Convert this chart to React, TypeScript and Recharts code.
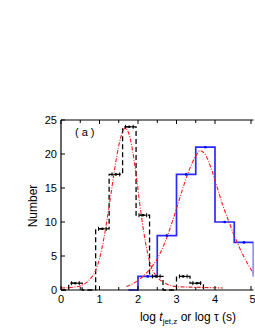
import { ComposedChart, Line, Scatter, ErrorBar, XAxis, YAxis } from 'recharts';

// jet-break time histogram (black dashed), bin edges + counts
const jetEdges = [0, 0.2, 0.55, 0.9, 1.25, 1.6, 1.95, 2.3, 2.65, 3.0, 3.35, 3.7];
const jetCounts = [0, 1, 0, 9, 17, 24, 11, 2, 0, 2, 1, 0];
const jetCenters = [0.375, 1.075, 1.425, 1.775, 2.125, 2.475, 3.175, 3.525];
const jetCenterCounts = [1, 9, 17, 24, 11, 2, 2, 1];

// tau histogram (blue)
const tauEdges = [1.75, 2.0, 2.5, 3.0, 3.5, 4.0, 4.5, 5.0];
const tauCounts = [0, 2, 8, 17, 21, 10, 7, 2];
const tauCenters = [2.25, 2.75, 3.25, 3.75, 4.25, 4.75];
const tauCenterCounts = [2, 8, 17, 21, 10, 7];

// fitted curves (red dash-dot)
const jetFitX = [0, 0.3, 0.5, 0.7, 0.9, 1.0, 1.1, 1.2, 1.3, 1.4, 1.5, 1.6, 1.66, 1.75, 1.85, 1.95, 2.05, 2.15, 2.25, 2.35, 2.5, 2.7, 3.0, 3.5, 4.2];
const jetFitY = [0.3, 0.4, 0.6, 1.3, 2.9, 4.6, 7.2, 10.5, 14.2, 18.0, 21.2, 23.3, 23.8, 23.2, 20.8, 17.0, 12.5, 8.5, 5.4, 3.3, 1.9, 1.0, 0.5, 0.4, 0.3];
const tauFitX = [1.7, 2.0, 2.3, 2.5, 2.7, 2.9, 3.1, 3.3, 3.5, 3.61, 3.75, 3.9, 4.05, 4.2, 4.35, 4.5, 4.75, 5.0];
const tauFitY = [0.5, 1.4, 3.0, 4.6, 7.0, 10.2, 13.8, 17.2, 19.7, 20.5, 19.9, 17.9, 15.2, 12.5, 10.2, 8.0, 4.9, 2.4];

const xTicks = [0, 0.5, 1, 1.5, 2, 2.5, 3, 3.5, 4, 4.5, 5];
const yTicks = [0, 2.5, 5, 7.5, 10, 12.5, 15, 17.5, 20, 22.5, 25];

const jetHist = jetEdges.map((x, i) => ({ x, y: jetCounts[i] }));
const tauHist = tauEdges.map((x, i) => ({ x, y: tauCounts[i] }));
const jetPts = jetCenters.map((x, i) => ({ x, y: jetCenterCounts[i], err: 0.1 }));
const tauPts = tauCenters.map((x, i) => ({ x, y: tauCenterCounts[i] }));
const jetFit = jetFitX.map((x, i) => ({ x, y: jetFitY[i] }));
const tauFit = tauFitX.map((x, i) => ({ x, y: tauFitY[i] }));

const font = '"Liberation Sans", Arial, sans-serif';

const BottomTick = (props: any) => {
  const { x, y, payload } = props;
  const major = Number.isInteger(payload.value);
  return (
    <g>
      <line x1={x} x2={x} y1={y} y2={y - (major ? 4 : 3)} stroke="#000" />
      {major && (
        <text x={x + (payload.value === 5 ? 1.5 : 0)} y={y + 13} textAnchor="middle" fontSize={11} fontFamily={font} fill="#000">
          {payload.value}
        </text>
      )}
    </g>
  );
};

const TopTick = (props: any) => {
  const { x, y, payload } = props;
  const major = Number.isInteger(payload.value);
  return <line x1={x} x2={x} y1={y} y2={y + (major ? 4 : 3)} stroke="#000" />;
};

const LeftTick = (props: any) => {
  const { x, y, payload } = props;
  const major = Number.isInteger(payload.value) && payload.value % 5 === 0;
  return (
    <g>
      <line x1={x} x2={x + (major ? 4 : 3)} y1={y} y2={y} stroke="#000" />
      {major && (
        <text x={x - 4} y={y + 4} textAnchor="end" fontSize={11} fontFamily={font} fill="#000">
          {payload.value}
        </text>
      )}
    </g>
  );
};

const Dot = (props: any) => {
  const { cx, cy, fill } = props;
  return <circle cx={cx} cy={cy} r={1.3} fill={fill} />;
};

export default function App() {
  return (
    <div style={{ position: 'absolute', left: 0, top: 0, width: 255, height: 330, overflow: 'hidden', background: '#fff' }}>
      <ComposedChart width={255} height={330} margin={{ top: 100, right: 1.5, left: 0, bottom: 0 }}>
        <XAxis
          xAxisId="b"
          type="number"
          dataKey="x"
          domain={[0, 5]}
          ticks={xTicks}
          allowDataOverflow
          height={40}
          tickSize={0}
          tickMargin={0}
          tickLine={false}
          axisLine={{ stroke: '#000', strokeWidth: 1.2 }}
          tick={<BottomTick />}
          label={{
            content: () => (
              <text x={188} y={321} textAnchor="middle" fontSize={12} fontFamily={font} fill="#000">
                log <tspan fontStyle="italic">t</tspan>
                <tspan fontSize={8} dy={3}>jet,z</tspan>
                <tspan dy={-3}> or log τ (s)</tspan>
              </text>
            ),
          }}
        />
        <XAxis
          xAxisId="t"
          orientation="top"
          type="number"
          dataKey="x"
          domain={[0, 5]}
          ticks={xTicks}
          allowDataOverflow
          height={20}
          tickSize={0}
          tickMargin={0}
          tickLine={false}
          axisLine={{ stroke: '#000', strokeWidth: 1.2 }}
          tick={<TopTick />}
        />
        <YAxis
          type="number"
          domain={[0, 25]}
          ticks={yTicks}
          width={61}
          tickSize={0}
          tickMargin={0}
          tickLine={false}
          axisLine={{ stroke: '#000', strokeWidth: 1.2 }}
          tick={<LeftTick />}
          label={{
            content: () => (
              <text x={37} y={206} transform="rotate(-90 37 206)" textAnchor="middle" fontSize={12} fontFamily={font} fill="#000">
                Number
              </text>
            ),
          }}
        />
        <Line
          xAxisId="b"
          data={jetHist}
          dataKey="y"
          type="stepAfter"
          stroke="#000"
          strokeWidth={1.3}
          strokeDasharray="5 3"
          dot={false}
          isAnimationActive={false}
        />
        <Line
          xAxisId="b"
          data={tauHist}
          dataKey="y"
          type="stepAfter"
          stroke="#2a2aff"
          strokeWidth={1.7}
          dot={false}
          isAnimationActive={false}
        />
        <Scatter xAxisId="b" data={jetPts} dataKey="y" fill="#000" shape={<Dot />} isAnimationActive={false}>
          <ErrorBar dataKey="err" direction="x" stroke="#000" width={2} strokeWidth={1} />
        </Scatter>
        <Scatter xAxisId="b" data={tauPts} dataKey="y" fill="#0000ff" shape={<Dot />} isAnimationActive={false} />
        <Line
          xAxisId="b"
          data={jetFit}
          dataKey="y"
          type="monotone"
          stroke="#ff1a1a"
          strokeWidth={1.1}
          strokeDasharray="4 1.5 1 1.5"
          dot={false}
          isAnimationActive={false}
        />
        <Line
          xAxisId="b"
          data={tauFit}
          dataKey="y"
          type="monotone"
          stroke="#ff1a1a"
          strokeWidth={1.1}
          strokeDasharray="4 1.5 1 1.5"
          dot={false}
          isAnimationActive={false}
        />
      </ComposedChart>
      <div
        style={{ position: 'absolute', left: 75, top: 126, fontSize: 11, fontFamily: font, letterSpacing: 3, color: '#000' }}
      >
        (a)
      </div>
    </div>
  );
}
